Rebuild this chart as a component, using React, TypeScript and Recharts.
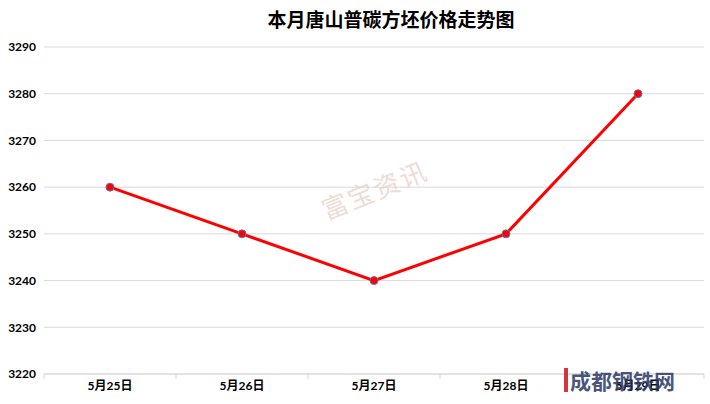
import React from "react";
import { LineChart, Line, XAxis, YAxis, CartesianGrid } from "recharts";

const dates = ["5月25日", "5月26日", "5月27日", "5月28日", "5月29日"];
const prices = [3260, 3250, 3240, 3250, 3280];
const yTicks = [3220, 3230, 3240, 3250, 3260, 3270, 3280, 3290];

const data = dates.map((d, i) => ({ date: d, price: prices[i] }));

const labelFont = "Lato, 'Noto Sans CJK SC', sans-serif";

function DateTick(props: any) {
  const { x, y, payload, index } = props;
  const half = 66;
  return (
    <g>
      <line x1={x - half} y1={y - 8} x2={x - half} y2={y - 3} stroke="#d9d9d9" />
      {index === dates.length - 1 && (
        <line x1={x + half} y1={y - 8} x2={x + half} y2={y - 3} stroke="#d9d9d9" />
      )}
      <text x={x} y={y + 8} textAnchor="middle" fontSize={12} fontWeight="bold" fill="#000" fontFamily={labelFont}>
        {payload.value}
      </text>
    </g>
  );
}

export default function App() {
  return (
    <div style={{ position: "fixed", left: 0, top: 0, width: 710, height: 404, background: "#fff" }}>
      <div
        style={{
          position: "absolute",
          left: 0,
          width: 782,
          top: 5,
          textAlign: "center",
          fontFamily: "'Noto Sans CJK SC', sans-serif",
          fontWeight: "bold",
          fontSize: 19,
          color: "#000",
        }}
      >
        本月唐山普碳方坯价格走势图
      </div>
      <div
        style={{
          position: "absolute",
          left: 318,
          top: 170,
          fontFamily: "'Noto Sans CJK SC', sans-serif",
          fontSize: 26,
          color: "#efdcd6",
          transform: "rotate(-22deg)",
          letterSpacing: 2,
        }}
      >
        富宝资讯
      </div>
      <LineChart
        width={710}
        height={404}
        data={data}
        margin={{ top: 47, right: 6, bottom: 0, left: 0 }}
        style={{ position: "absolute", left: 0, top: 0 }}
      >
        <CartesianGrid vertical={false} stroke="#d9d9d9" />
        <XAxis
          dataKey="date"
          scale="band"
          height={30}
          axisLine={{ stroke: "#d9d9d9" }}
          tickLine={false}
          tick={<DateTick />}
          interval={0}
        />
        <YAxis
          width={44}
          domain={[3220, 3290]}
          ticks={yTicks}
          axisLine={false}
          tickLine={false}
          tickMargin={2}
          tick={{ fill: "#000", fontSize: 12, fontWeight: "bold", fontFamily: labelFont }}
        />
        <Line
          type="linear"
          dataKey="price"
          stroke="#ff0000"
          strokeWidth={3}
          dot={{ r: 4, fill: "#ff0000", stroke: "#5b7bb5", strokeWidth: 1 }}
          isAnimationActive={false}
        />
      </LineChart>
      <div
        style={{
          position: "absolute",
          left: 564,
          top: 368,
          fontFamily: "'Noto Sans CJK SC', sans-serif",
          fontWeight: "bold",
          fontSize: 21,
          lineHeight: "24px",
          color: "rgba(40,55,100,0.85)",
          borderLeft: "4px solid rgba(200,20,30,0.85)",
          paddingLeft: 2,
        }}
      >
        成都钢铁网
      </div>
    </div>
  );
}
